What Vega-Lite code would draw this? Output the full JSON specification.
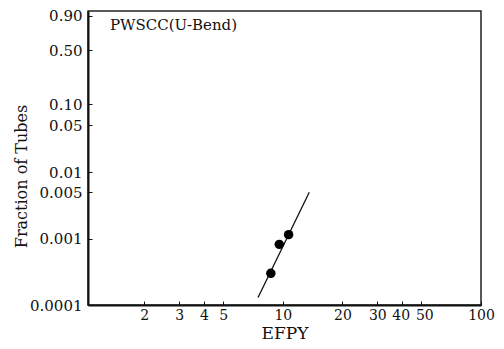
{
  "$schema": "https://vega.github.io/schema/vega-lite/v6.json",
  "width": 393,
  "height": 294,
  "autosize": {"type": "none"},
  "padding": {"left": 88, "top": 11, "right": 23, "bottom": 44},
  "background": "white",
  "title": {
    "text": "PWSCC(U-Bend)",
    "anchor": "start",
    "frame": "group",
    "offset": 0,
    "baseline": "alphabetic",
    "dx": 22,
    "dy": 36,
    "font": "DejaVu Serif",
    "fontSize": 15,
    "fontWeight": "normal",
    "color": "#111"
  },
  "config": {
    "view": {"stroke": "#222", "strokeWidth": 1.5},
    "axis": {
      "labelFont": "DejaVu Serif",
      "titleFont": "DejaVu Serif",
      "labelColor": "#111",
      "titleColor": "#111",
      "titleFontWeight": "normal",
      "grid": false,
      "domainColor": "#111",
      "domainWidth": 2,
      "tickColor": "#111",
      "labelOverlap": false,
      "labelBound": false,
      "labelFlush": false
    }
  },
  "datasets": {
    "obs": [
      {"efpy": 8.7, "fraction": 0.0003},
      {"efpy": 9.6, "fraction": 0.00082},
      {"efpy": 10.7, "fraction": 0.00115}
    ],
    "fit": [
      {"efpy": 7.5, "fraction": 0.00013},
      {"efpy": 13.6, "fraction": 0.005}
    ]
  },
  "layer": [
    {
      "data": {"name": "fit"},
      "mark": {"type": "line", "color": "#111", "strokeWidth": 1.3, "clip": true},
      "encoding": {
        "x": {
          "field": "efpy", "type": "quantitative",
          "scale": {"type": "log", "domain": [1.04, 100], "nice": false},
          "axis": {
            "title": "EFPY",
            "titleFontSize": 17,
            "titlePadding": 3,
            "values": [2, 3, 4, 5, 10, 20, 30, 40, 50, 100],
            "format": "d",
            "labelOffset": {"condition": [{"test": "datum.value == 40", "value": -1.5}, {"test": "datum.value == 50", "value": 3}], "value": 0},
            "labelFontSize": 14,
            "tickSize": -4,
            "labelPadding": 7
          }
        },
        "y": {
          "field": "fraction", "type": "quantitative",
          "scale": {"type": "log", "domain": [0.0001, 2.7], "nice": false},
          "axis": {
            "title": "Fraction of Tubes",
            "titleFontSize": 16,
            "titleAngle": 270,
            "titleAlign": "center",
            "titleBaseline": "middle",
            "titleX": -67,
            "titleY": 165,
            "values": [0.0001, 0.0010005, 0.0050125, 0.01005, 0.05129, 0.10536, 0.69315, 2.302585],
            "labelExpr": "datum.value > 2 ? '0.90' : datum.value > 0.6 ? '0.50' : datum.value > 0.1 ? '0.10' : datum.value > 0.04 ? '0.05' : datum.value > 0.009 ? '0.01' : datum.value > 0.004 ? '0.005' : datum.value > 0.0009 ? '0.001' : '0.0001'",
            "labelFontSize": 15,
            "tickSize": -4,
            "labelPadding": 10
          }
        }
      }
    },
    {
      "data": {"name": "obs"},
      "mark": {"type": "point", "filled": true, "shape": "circle", "size": 90, "color": "#000", "opacity": 1},
      "encoding": {
        "x": {"field": "efpy", "type": "quantitative"},
        "y": {"field": "fraction", "type": "quantitative"}
      }
    }
  ]
}
